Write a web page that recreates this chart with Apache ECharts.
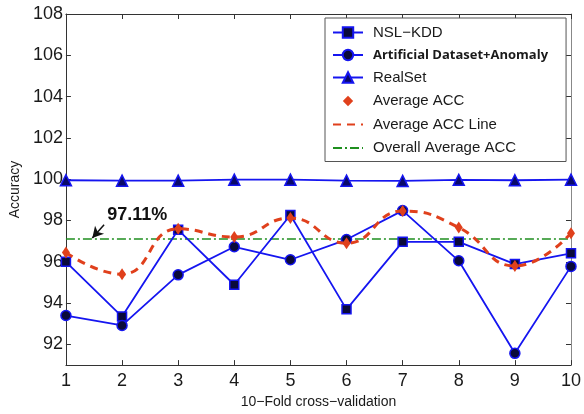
<!DOCTYPE html>
<html>
<head>
<meta charset="utf-8">
<script src="https://cdn.jsdelivr.net/npm/echarts@6/dist/echarts.min.js"></script>
<style>html,body{margin:0;padding:0;background:#fff}#c{width:584px;height:414px}</style>
</head>
<body>
<div id="c"></div>
<script>
var folds = [1, 2, 3, 4, 5, 6, 7, 8, 9, 10];
var nslKdd = [96.0, 93.35, 97.55, 94.89, 98.27, 93.7, 96.97, 96.97, 95.89, 96.41];
var artificial = [93.4, 92.92, 95.37, 96.73, 96.1, 97.08, 98.48, 96.05, 91.57, 95.78];
var realSet = [99.95, 99.93, 99.93, 99.98, 99.98, 99.93, 99.92, 99.97, 99.95, 99.98];
var averageAcc = [96.45, 95.4, 97.6, 97.2, 98.12, 96.9, 98.46, 97.66, 95.8, 97.39];
var overallAvg = 97.11;
var yTicks = [92, 94, 96, 98, 100, 102, 104, 106, 108];

function pairs(vals) { return folds.map(function (f, i) { return [f, vals[i]]; }); }

var font = '"Liberation Sans", Arial, sans-serif';
var blue = '#1515f0';
var mk = '#0a0a3a';
var red = '#e0401c';
var green = '#1f8f1f';

var chart = echarts.init(document.getElementById('c'));
var axisLineStyle = { color: '#333', width: 1 };
chart.setOption({
  animation: false,
  grid: { left: 63, right: 11, top: 14, bottom: 42, show: false },
  xAxis: [{
    type: 'value', min: 1, max: 10, interval: 1, position: 'bottom',
    axisLine: { show: true, lineStyle: axisLineStyle },
    axisTick: { show: true, inside: true, length: 5, lineStyle: axisLineStyle },
    splitLine: { show: false },
    axisLabel: { fontFamily: font, fontSize: 18, color: '#1a1a1a', margin: 7 },
    name: '10\u2212Fold cross\u2212validation', nameLocation: 'middle', nameGap: 27,
    nameTextStyle: { fontFamily: font, fontSize: 14, color: '#1a1a1a' }
  }, {
    type: 'value', min: 1, max: 10, interval: 1, position: 'top',
    axisLine: { show: true, lineStyle: axisLineStyle },
    axisTick: { show: true, inside: true, length: 5, lineStyle: axisLineStyle },
    splitLine: { show: false }, axisLabel: { show: false }
  }],
  yAxis: [{
    type: 'value', min: 91, max: 108, position: 'left',
    axisLine: { show: true, lineStyle: axisLineStyle },
    axisTick: { show: true, inside: true, length: 5, lineStyle: axisLineStyle, customValues: yTicks },
    splitLine: { show: false },
    axisLabel: { fontFamily: font, fontSize: 18, color: '#1a1a1a', margin: 3, customValues: yTicks },
    name: 'Accuracy', nameLocation: 'middle', nameGap: 38, nameRotate: 90,
    nameTextStyle: { fontFamily: font, fontSize: 14, color: '#1a1a1a' }
  }, {
    type: 'value', min: 91, max: 108, position: 'right',
    axisLine: { show: true, lineStyle: { color: '#888', width: 1 } },
    axisTick: { show: true, inside: true, length: 5, lineStyle: axisLineStyle, customValues: yTicks },
    splitLine: { show: false }, axisLabel: { show: false }
  }],
  legend: {
    orient: 'vertical', left: 325, top: 18, padding: [7, 18, 6, 7],
    backgroundColor: '#fff', borderColor: '#555', borderWidth: 1,
    itemWidth: 30, itemHeight: 13, itemGap: 8.5,
    textStyle: { fontFamily: font, fontSize: 15, color: '#1a1a1a', padding: [0, 0, 0, 5], width: 197 },
    data: [
      { name: 'NSL\u2212KDD' },
      { name: 'Artificial Dataset+Anomaly', textStyle: { fontFamily: '"Open Sans", "DejaVu Sans", sans-serif', fontWeight: 'bold', fontSize: 13 } },
      { name: 'RealSet' },
      { name: 'Average ACC', lineStyle: { opacity: 0 } },
      { name: 'Average ACC Line', itemStyle: { opacity: 0 } },
      { name: 'Overall Average ACC', itemStyle: { opacity: 0 } }
    ]
  },
  series: [{
    name: 'NSL\u2212KDD', type: 'line', data: pairs(nslKdd),
    symbol: 'rect', symbolSize: 9,
    lineStyle: { color: blue, width: 1.8 },
    itemStyle: { color: mk, borderColor: blue, borderWidth: 1.5 }, z: 3
  }, {
    name: 'Artificial Dataset+Anomaly', type: 'line', data: pairs(artificial),
    symbol: 'circle', symbolSize: 10,
    lineStyle: { color: blue, width: 1.8 },
    itemStyle: { color: mk, borderColor: blue, borderWidth: 1.5 }, z: 3
  }, {
    name: 'RealSet', type: 'line', data: pairs(realSet),
    symbol: 'triangle', symbolSize: 11,
    lineStyle: { color: blue, width: 1.8 },
    itemStyle: { color: '#0a0a6a', borderColor: blue, borderWidth: 1.5 }, z: 3
  }, {
    name: 'Average ACC', type: 'line', data: pairs(averageAcc),
    symbol: 'diamond', symbolSize: [8, 12],
    lineStyle: { opacity: 0, width: 0 },
    itemStyle: { color: red }, z: 5
  }, {
    name: 'Average ACC Line', type: 'line', data: pairs(averageAcc),
    symbol: 'none', smooth: 0.5,
    lineStyle: { color: red, width: 3, type: [8, 6] }, z: 4
  }, {
    name: 'Overall Average ACC', type: 'line',
    data: [[folds[0], overallAvg], [folds[folds.length - 1], overallAvg]],
    symbol: 'none',
    lineStyle: { color: green, width: 1.5, type: [9, 3, 2, 3] }, z: 2,
    markLine: {
      silent: true, symbol: ['none', 'arrow'], symbolSize: [9, 11],
      lineStyle: { color: '#111', width: 1.5, type: 'solid' },
      label: { show: false },
      data: [[{ coord: [1.68, 97.8] }, { coord: [1.47, 97.15] }]]
    },
    markPoint: {
      silent: true, symbol: 'rect', symbolSize: 1,
      itemStyle: { color: 'rgba(0,0,0,0)' },
      label: { show: true, formatter: overallAvg.toFixed(2) + '%', fontFamily: font, fontWeight: 'bold', fontSize: 18, color: '#111' },
      data: [{ coord: [2.27, 98.25] }]
    }
  }]
});
</script>
</body>
</html>
